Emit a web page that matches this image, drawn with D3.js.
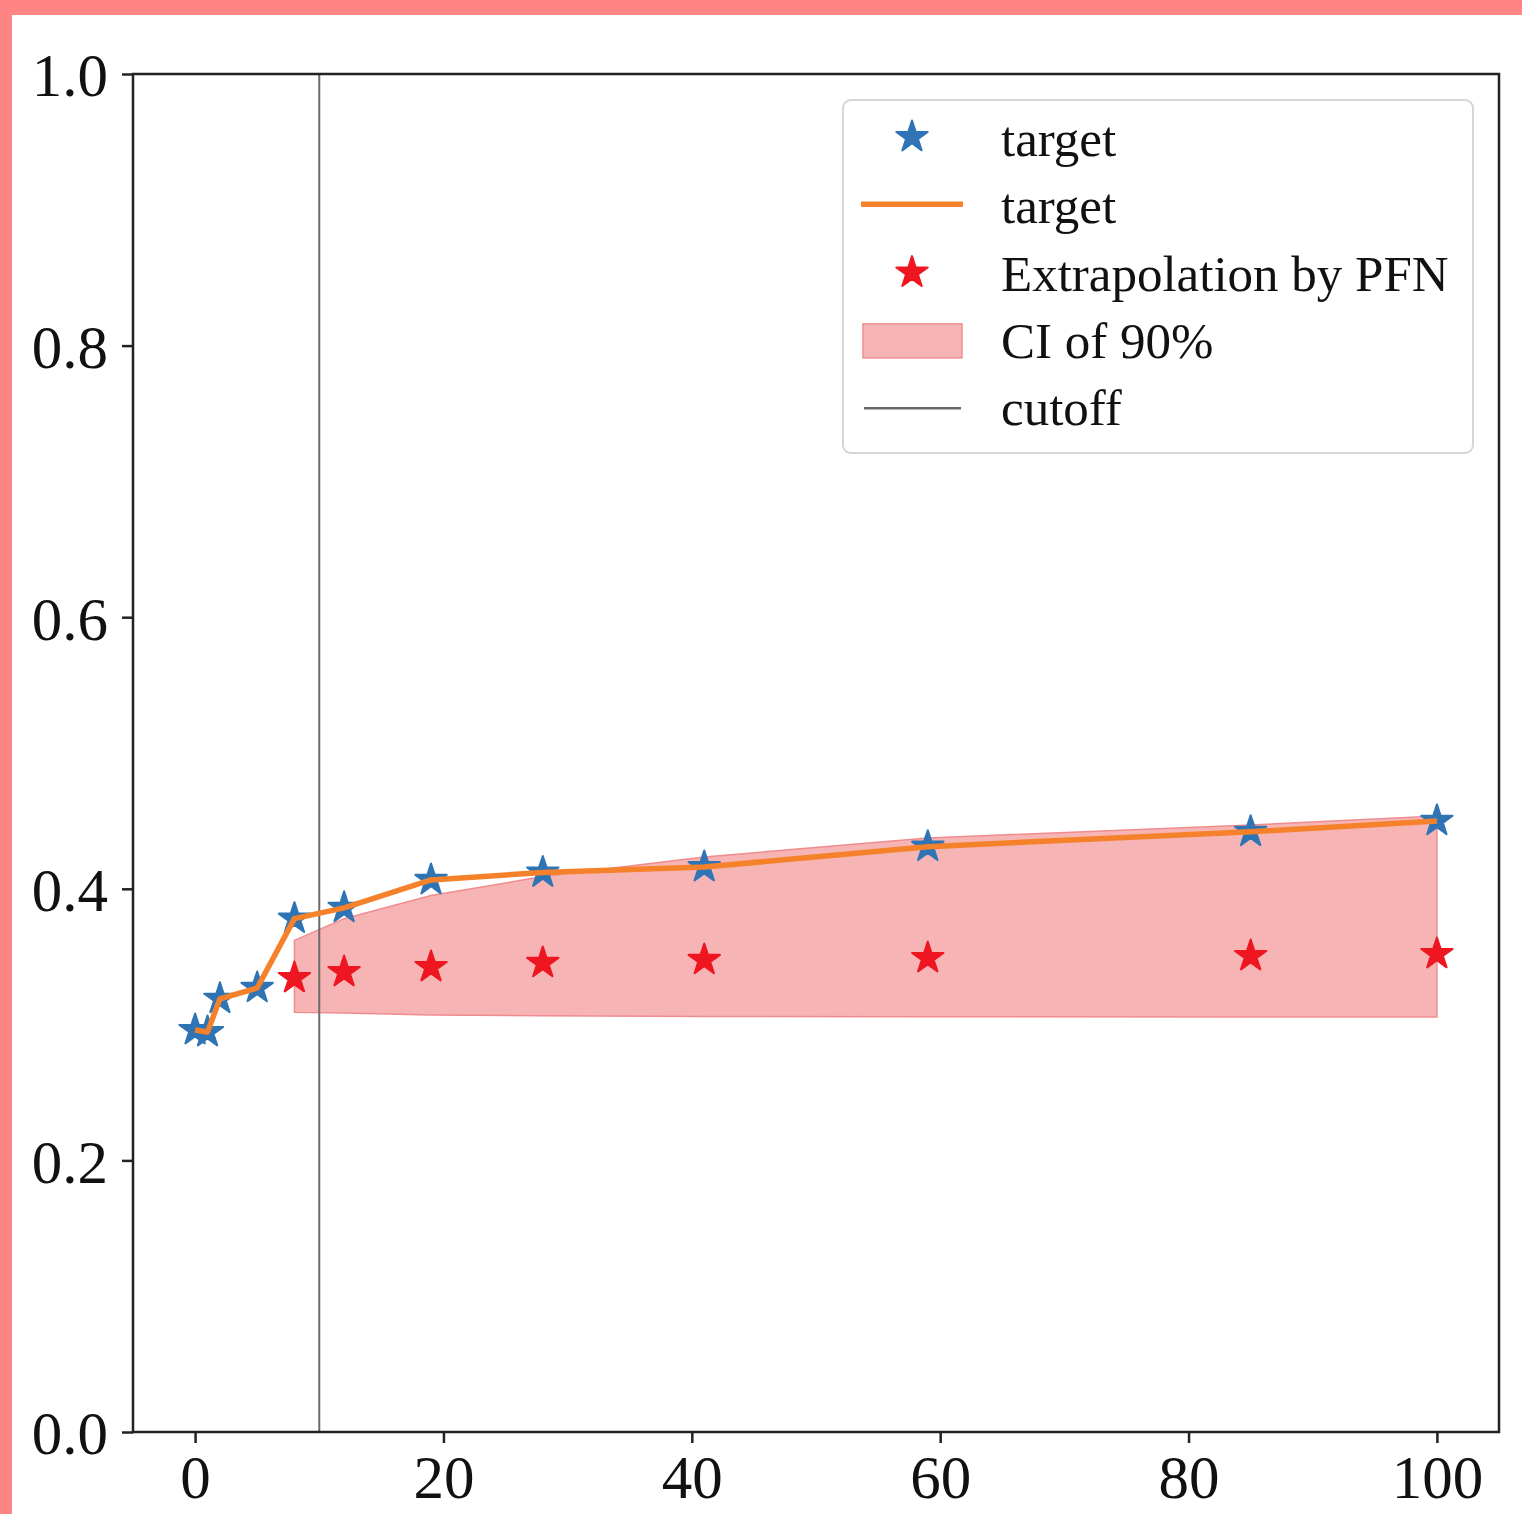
<!DOCTYPE html>
<html>
<head>
<meta charset="utf-8">
<script src="https://cdn.jsdelivr.net/npm/d3@7"></script>
<style>
	body { margin: 0; background: #ff8585; }
	svg { display: block; }
	text { font-family: "Liberation Serif", "DejaVu Serif", serif; fill: #111; }
</style>
</head>
<body>
<svg id="chart" width="1522" height="1514"></svg>
<script>
// observed curve
const targetX = [0, 1, 2, 5, 8, 12, 19, 28, 41, 59, 85, 100];
const targetY = [0.296, 0.2945, 0.319, 0.327, 0.378, 0.386, 0.4065, 0.412, 0.416, 0.431, 0.442, 0.450];

// PFN extrapolation and its 90% interval
const predX = [8, 12, 19, 28, 41, 59, 85, 100];
const predY = [0.3343, 0.3387, 0.3424, 0.3454, 0.3476, 0.349, 0.3505, 0.352];
const ciLower = [0.309, 0.3085, 0.307, 0.3065, 0.306, 0.3058, 0.3056, 0.3056];
const ciUpper = [0.362, 0.378, 0.395, 0.409, 0.4234, 0.4374, 0.447, 0.4536];

const cutoffX = 10;
const xTicks = [0, 20, 40, 60, 80, 100];
const yTicks = [0, 0.2, 0.4, 0.6, 0.8, 1.0];
const legendLabels = ['target', 'target', 'Extrapolation by PFN', 'CI of 90%', 'cutoff'];

const blue = '#2f74b4';
const orange = '#f5822a';
const red = '#ee1620';
const bandFill = 'rgb(247,180,181)';
const bandEdge = 'rgb(240,140,142)';
const cutoffColor = '#6a6a6a';

const svg = d3.select('#chart');

svg.append('rect')
	.attr('x', 12).attr('y', 15)
	.attr('width', 1510).attr('height', 1499)
	.attr('fill', '#fff');

const plot = { left: 133, right: 1499, top: 74, bottom: 1432 };

const x = d3.scaleLinear().domain([-5, 105]).range([plot.left, plot.right]);
const y = d3.scaleLinear().domain([0, 1]).range([plot.bottom, plot.top]);

const starRadius = 16.5;
const star = d3.symbol().type(d3.symbolStar).size(starRadius * starRadius / 0.8908130915);

function drawStar(sel, color) {
	sel.attr('d', star)
		.attr('fill', color)
		.attr('stroke', color)
		.attr('stroke-width', 2)
		.attr('stroke-linejoin', 'round');
}

// band
const band = predX.map((d, i) => ({ x: d, lo: ciLower[i], hi: ciUpper[i] }));
svg.append('path')
	.datum(band)
	.attr('d', d3.area().x(d => x(d.x)).y0(d => y(d.lo)).y1(d => y(d.hi)))
	.attr('fill', bandFill)
	.attr('stroke', bandEdge)
	.attr('stroke-width', 1.5);

// cutoff
svg.append('line')
	.attr('x1', x(cutoffX)).attr('x2', x(cutoffX))
	.attr('y1', plot.top).attr('y2', plot.bottom)
	.attr('stroke', cutoffColor)
	.attr('stroke-width', 2);

// target stars
const targetPts = targetX.map((d, i) => [d, targetY[i]]);
svg.append('g').selectAll('path')
	.data(targetPts)
	.join('path')
	.attr('transform', d => 'translate(' + x(d[0]) + ',' + y(d[1]) + ')')
	.call(drawStar, blue);

// target line
svg.append('path')
	.datum(targetPts)
	.attr('d', d3.line().x(d => x(d[0])).y(d => y(d[1])))
	.attr('fill', 'none')
	.attr('stroke', orange)
	.attr('stroke-width', 5.5)
	.attr('stroke-linejoin', 'round');

// extrapolation stars
svg.append('g').selectAll('path')
	.data(predX.map((d, i) => [d, predY[i]]))
	.join('path')
	.attr('transform', d => 'translate(' + x(d[0]) + ',' + y(d[1]) + ')')
	.call(drawStar, red);

// axes
const xAxis = svg.append('g')
	.attr('transform', 'translate(0,' + plot.bottom + ')')
	.call(d3.axisBottom(x).tickValues(xTicks).tickSize(11).tickPadding(11).tickFormat(d3.format('d')));
const yAxis = svg.append('g')
	.attr('transform', 'translate(' + plot.left + ',0)')
	.call(d3.axisLeft(y).tickValues(yTicks).tickSize(11).tickPadding(14).tickFormat(d3.format('.1f')));

[xAxis, yAxis].forEach(function(ax) {
	ax.select('.domain').remove();
	ax.selectAll('.tick line').attr('stroke', '#222').attr('stroke-width', 2.5);
	ax.selectAll('.tick text')
		.attr('fill', '#111')
		.style('font-family', '"Liberation Serif", serif')
		.style('font-size', '61px');
});
yAxis.selectAll('.tick text').attr('dy', '0.36em');
xAxis.selectAll('.tick text').attr('dy', '0.72em');

svg.append('rect')
	.attr('x', plot.left).attr('y', plot.top)
	.attr('width', plot.right - plot.left).attr('height', plot.bottom - plot.top)
	.attr('fill', 'none')
	.attr('stroke', '#222')
	.attr('stroke-width', 2.5);

// legend
const legend = svg.append('g');
legend.append('rect')
	.attr('x', 843).attr('y', 100)
	.attr('width', 630).attr('height', 353)
	.attr('rx', 8)
	.attr('fill', '#fff').attr('fill-opacity', 0.8)
	.attr('stroke', '#d6d6d6').attr('stroke-width', 2);

const rowY = d3.range(legendLabels.length).map(i => 140 + i * 67.3);
const handleX = 912;

legend.append('path')
	.attr('transform', 'translate(' + handleX + ',' + (rowY[0] - 3) + ')')
	.call(drawStar, blue);
legend.append('line')
	.attr('x1', 861).attr('x2', 963).attr('y1', rowY[1] - 3).attr('y2', rowY[1] - 3)
	.attr('stroke', orange).attr('stroke-width', 5.5);
legend.append('path')
	.attr('transform', 'translate(' + handleX + ',' + (rowY[2] - 2) + ')')
	.call(drawStar, red);
legend.append('rect')
	.attr('x', 863).attr('y', rowY[3] - 18).attr('width', 99).attr('height', 34)
	.attr('fill', bandFill).attr('stroke', bandEdge).attr('stroke-width', 1.5);
legend.append('line')
	.attr('x1', 864).attr('x2', 961).attr('y1', rowY[4] - 1).attr('y2', rowY[4] - 1)
	.attr('stroke', cutoffColor).attr('stroke-width', 2.5);

legend.selectAll('text.label')
	.data(legendLabels)
	.join('text')
	.attr('class', 'label')
	.attr('x', 1001)
	.attr('y', (d, i) => rowY[i] + 16)
	.style('font-size', '51px')
	.text(d => d);
</script>
</body>
</html>
